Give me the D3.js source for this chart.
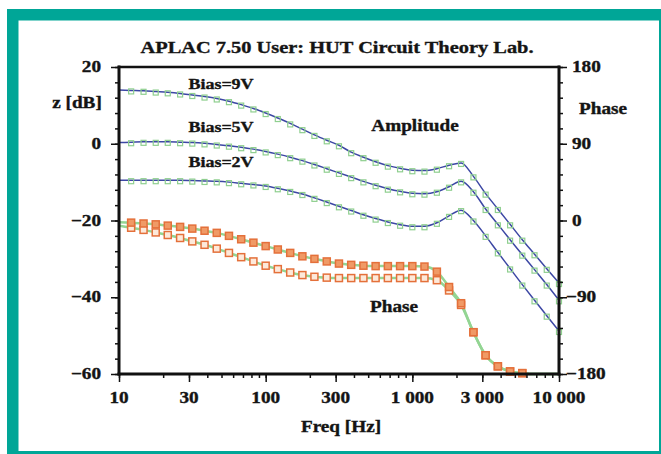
<!DOCTYPE html>
<html>
<head>
<meta charset="utf-8">
<script src="https://cdn.jsdelivr.net/npm/d3@7"></script>
<style>
  body { margin: 0; background: #fff; }
  text { font-family: "Liberation Serif", "Times New Roman", serif; font-weight: bold; fill: #141414; stroke: #141414; stroke-width: 0.35; }
</style>
</head>
<body>
<div id="chart"></div>
<script>
// sweep frequencies [Hz], 12 points per decade
var freqs = [10, 12.1, 14.7, 17.8, 21.5, 26.1, 31.6, 38.3, 46.4, 56.2, 68.1, 82.5,
  100, 121, 147, 178, 215, 261, 316, 383, 464, 562, 681, 825,
  1000, 1210, 1470, 1780, 2150, 2610, 3160, 3830, 4640, 5620, 6810, 8250, 10000];

// amplitude z [dB] per bias voltage
var ampBias9 = [14.0, 13.9, 13.8, 13.6, 13.4, 13.1, 12.7, 12.3, 11.8, 11.1, 10.2, 9.2,
  8.0, 6.7, 5.3, 3.8, 2.3, 0.9, -0.4, -2.2, -3.5, -4.7, -5.7, -6.4,
  -6.9, -7.0, -6.5, -5.6, -5.0, -8.5, -13.0, -17.0, -21.0, -25.0, -28.8, -32.6, -36.3];
var ampBias5 = [0.3, 0.4, 0.5, 0.5, 0.5, 0.4, 0.3, 0.1, -0.2, -0.5, -0.9, -1.4,
  -2.0, -2.7, -3.5, -4.4, -5.4, -6.5, -7.6, -8.7, -9.8, -10.8, -11.7, -12.4,
  -12.9, -13.0, -12.5, -11.2, -9.8, -12.5, -17.0, -21.0, -25.0, -28.9, -32.8, -36.7, -40.8];
var ampBias2 = [-9.5, -9.5, -9.5, -9.5, -9.5, -9.5, -9.6, -9.7, -9.8, -10.0, -10.3, -10.6,
  -11.0, -11.6, -12.3, -13.1, -14.1, -15.2, -16.3, -17.4, -18.5, -19.5, -20.4, -21.1,
  -21.5, -21.5, -20.6, -18.8, -17.3, -20.0, -24.0, -28.3, -32.5, -36.7, -40.8, -44.8, -48.8];

// phase [deg]
var phaseUpper = [-2, -2.5, -3.5, -4.5, -6, -7.5, -9.5, -12, -14.5, -18, -22, -26,
  -30, -34, -38, -42, -45, -48, -50.5, -52, -53, -53.5, -53.5, -53.5,
  -53.5, -54, -60, -78, -97, -131, -158, -171, -177, -179, -180, -180, -180];
var phaseLower = [-6, -8.5, -11, -14, -17, -20.5, -24.5, -28.5, -33, -38, -43, -48,
  -53, -57, -61, -64, -66, -67, -67.5, -67.5, -67.5, -67.5, -67.5, -67.5,
  -67.5, -67.5, -70, -82, -99, -131, -158, -171, -177, -179, -180, -180, -180];

// measured points (markers) only cover part of the sweep
var ampMeasRange = [12, 10000];
var phaseMeasRange = [12, 5700];

var dbTicks = [-60, -40, -20, 0, 20];
var degTicks = [-180, -90, 0, 90, 180];
var freqTicks = [10, 30, 100, 300, 1000, 3000, 10000];
var ampLabels = [["Bias=9V", 89], ["Bias=5V", 132], ["Bias=2V", 167]];

var svg = d3.select("#chart").append("svg").attr("width", 661).attr("height", 454);

// teal frame
svg.append("rect").attr("x", 7).attr("y", 9).attr("width", 660).attr("height", 450).attr("fill", "#00a697");
svg.append("rect").attr("x", 18.5).attr("y", 20.5).attr("width", 640.5).attr("height", 430.5).attr("fill", "#fff");

var pL = 119, pR = 559, pT = 67, pB = 374;
var x = d3.scaleLog().domain([10, 10000]).range([pL, pR]);
var yL = d3.scaleLinear().domain([-60, 20]).range([pB, pT]);
var yR = d3.scaleLinear().domain([-180, 180]).range([pB, pT]);

function series(vals) {
  return freqs.map(function (f, i) { return { f: f, v: vals[i] }; });
}
function inRange(r) { return function (d) { return d.f >= r[0] && d.f <= r[1]; }; }

var plot = svg.append("g");

// phase: fitted green lines + orange measured squares
var lineR = d3.line().x(function (d) { return x(d.f); }).y(function (d) { return yR(d.v); }).curve(d3.curveMonotoneX);
[phaseLower, phaseUpper].forEach(function (p) {
  plot.append("path").datum(series(p)).attr("d", lineR)
    .attr("fill", "none").attr("stroke", "#93d593").attr("stroke-width", 2.5);
});
[[phaseLower, "#fde9da"], [phaseUpper, "#f09a66"]].forEach(function (p) {
  plot.selectAll(null).data(series(p[0]).filter(inRange(phaseMeasRange))).enter()
    .append("rect")
    .attr("x", function (d) { return x(d.f) - 3.5; })
    .attr("y", function (d) { return yR(d.v) - 3.5; })
    .attr("width", 7).attr("height", 7)
    .attr("fill", p[1]).attr("stroke", "#e4703a").attr("stroke-width", 1.5);
});

// amplitude: blue model lines + green measured squares
var lineL = d3.line().x(function (d) { return x(d.f); }).y(function (d) { return yL(d.v); }).curve(d3.curveMonotoneX);
[ampBias9, ampBias5, ampBias2].forEach(function (a) {
  plot.append("path").datum(series(a)).attr("d", lineL)
    .attr("fill", "none").attr("stroke", "#3c47a4").attr("stroke-width", 1.5);
  plot.selectAll(null).data(series(a).filter(inRange(ampMeasRange))).enter()
    .append("rect")
    .attr("x", function (d) { return x(d.f) - 2.5; })
    .attr("y", function (d) { return yL(d.v) - 1.5; })
    .attr("width", 5).attr("height", 5)
    .attr("fill", "none").attr("stroke", "#8fcf8f").attr("stroke-width", 1.2);
});

// axes
function ticks(g) {
  g.select(".domain").remove();
  g.selectAll("line").attr("stroke", "#111").attr("stroke-width", 1.5);
}
var minorDb = d3.range(-60, 21, 4), minorDeg = d3.range(-180, 181, 18);
svg.append("g").attr("transform", "translate(" + pL + ",0)")
  .call(d3.axisLeft(yL).tickValues(minorDb).tickSize(4).tickFormat("")).call(ticks);
svg.append("g").attr("transform", "translate(" + pL + ",0)")
  .call(d3.axisLeft(yL).tickValues(dbTicks).tickSize(8).tickFormat("")).call(ticks);
svg.append("g").attr("transform", "translate(" + pR + ",0)")
  .call(d3.axisRight(yR).tickValues(minorDeg).tickSize(4).tickFormat("")).call(ticks);
svg.append("g").attr("transform", "translate(" + pR + ",0)")
  .call(d3.axisRight(yR).tickValues(degTicks).tickSize(8).tickFormat("")).call(ticks);
svg.append("g").attr("transform", "translate(0," + pB + ")")
  .call(d3.axisBottom(x).tickValues(x.ticks()).tickSize(4).tickFormat("")).call(ticks);
svg.append("g").attr("transform", "translate(0," + pB + ")")
  .call(d3.axisBottom(x).tickValues(freqTicks).tickSize(8).tickFormat("")).call(ticks);

// plot box
var box = svg.append("g").attr("stroke", "#111").attr("stroke-linecap", "square");
box.append("line").attr("x1", pL).attr("x2", pR).attr("y1", pT).attr("y2", pT).attr("stroke-width", 2.5);
box.append("line").attr("x1", pL).attr("x2", pR).attr("y1", pB).attr("y2", pB).attr("stroke-width", 3);
box.append("line").attr("x1", pL).attr("x2", pL).attr("y1", pT).attr("y2", pB).attr("stroke-width", 3);
box.append("line").attr("x1", pR).attr("x2", pR).attr("y1", pT).attr("y2", pB).attr("stroke-width", 3);

// text, slightly stretched like the original raster
function label(txt, px, py, size, anchor) {
  svg.append("text")
    .attr("transform", "translate(" + px + "," + py + ") scale(1.2,1)")
    .attr("text-anchor", anchor || "middle")
    .style("font-size", size + "px")
    .text(txt);
}
function signed(d) { return d < 0 ? "\u2212" + (-d) : String(d); }
function freqFmt(d) { return d3.format(",")(d).replace(",", " "); }

dbTicks.forEach(function (d) { label(signed(d), 101, yL(d) + 5, 16, "end"); });
degTicks.forEach(function (d) { label(signed(d), d < 0 ? 566 : 572, yR(d) + 5, 16, "start"); });
freqTicks.forEach(function (d) { label(freqFmt(d), x(d), 403, 16); });

label("APLAC 7.50 User: HUT Circuit Theory Lab.", 337, 53, 17);
label("z [dB]", 77, 108, 16);
label("Phase", 603, 114, 16);
label("Freq [Hz]", 341, 432, 16);
ampLabels.forEach(function (a) { label(a[0], 221, a[1], 15); });
label("Amplitude", 415, 131, 16);
label("Phase", 394, 312, 16);
</script>
</body>
</html>
